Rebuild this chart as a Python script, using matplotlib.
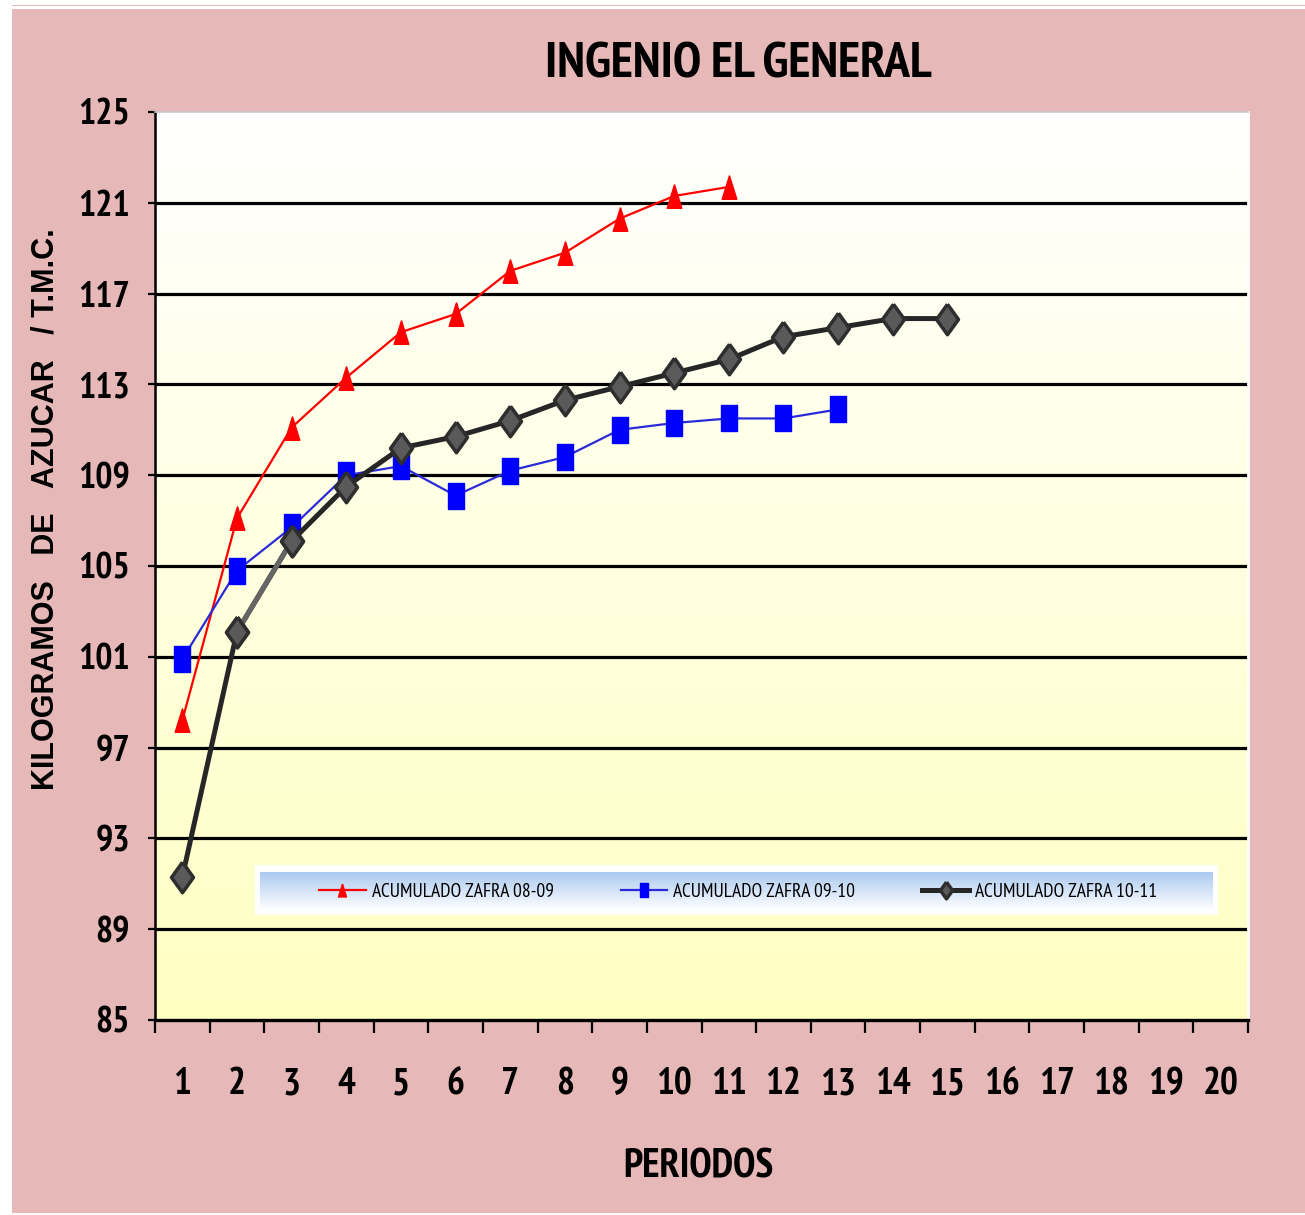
import numpy as np
import matplotlib.pyplot as plt
from matplotlib.patches import Rectangle

periods = np.arange(1, 21)
zafra_08_09 = [98.2, 107.1, 111.1, 113.3, 115.3, 116.1, 118.0, 118.8, 120.3, 121.3, 121.7]
zafra_09_10 = [100.9, 104.8, 106.7, 109.0, 109.4, 108.1, 109.2, 109.8, 111.0, 111.3, 111.5, 111.5, 111.9]
zafra_10_11 = [91.3, 102.1, 106.1, 108.5, 110.2, 110.7, 111.4, 112.3, 112.9, 113.5, 114.1, 115.1, 115.5, 115.9, 115.9]
y_ticks = np.arange(85, 126, 4)

narrow = ['Liberation Sans Narrow', 'Arial Narrow', 'PT Sans Narrow', 'Roboto Condensed',
          'Archivo Narrow', 'Liberation Sans']
pink = '#e6b8b7'

fig = plt.figure(figsize=(13.05, 12.15), dpi=100, facecolor='white')
fig.patches.append(Rectangle((12 / 1305, 0.002), 1 - 12 / 1305, 1 - 9 / 1215 - 0.002,
                             transform=fig.transFigure, facecolor=pink, edgecolor='none', zorder=-5))
fig.patches.append(Rectangle((12 / 1305, 1 - 6 / 1215), 1 - 12 / 1305, 1.5 / 1215,
                             transform=fig.transFigure, facecolor=pink, edgecolor='none', zorder=-5))

ax = fig.add_axes([155 / 1305, 1 - 1020 / 1215, 1093 / 1305, 908 / 1215])
ax.set_facecolor('white')

# plot area gradient: white at top -> pale yellow at bottom
grad = np.linspace(0, 1, 256).reshape(-1, 1)
top = np.array([1.0, 1.0, 1.0])
bot = np.array([1.0, 1.0, 0.76])
img = top + (bot - top) * grad[:, :, None]
ax.imshow(img, extent=[0, 1, 0, 1], transform=ax.transAxes, aspect='auto', zorder=0)

for v in y_ticks[1:-1]:
    ax.axhline(v, color='black', lw=2.3, zorder=1)

x1 = periods[:len(zafra_08_09)]
x2 = periods[:len(zafra_09_10)]
x3 = periods[:len(zafra_10_11)]

tri = [(0, 1), (0.62, -1), (-0.62, -1), (0, 1)]
rect = [(-0.6, -1), (0.6, -1), (0.6, 1), (-0.6, 1), (-0.6, -1)]
diam = [(0, 1), (0.72, 0), (0, -1), (-0.72, 0), (0, 1)]

ax.plot(x1, zafra_08_09, color='#ff0000', lw=1.6, marker=tri, ms=17,
        mfc='#ff0000', mec='#ff0000', label='ACUMULADO ZAFRA 08-09', zorder=3)
ax.plot(x2, zafra_09_10, color='#2a2ad8', lw=1.6, marker=rect, ms=19,
        mfc='#0000ff', mec='#0000ff', label='ACUMULADO ZAFRA 09-10', zorder=3)
ax.plot(x3, zafra_10_11, color='#262626', lw=3.6, marker=diam, ms=22,
        mfc='#5a5a5a', mec='#2e2e2e', mew=2.5, label='ACUMULADO ZAFRA 10-11', zorder=4)
ax.plot(x3[1:3], zafra_10_11[1:3], color='#666666', lw=3.6, zorder=4)
ax.plot(x3[1:3], zafra_10_11[1:3], ls='none', marker=diam, ms=22,
        mfc='#5a5a5a', mec='#2e2e2e', mew=2.5, zorder=4)

ax.set_xlim(0.5, 20.5)
ax.set_ylim(85, 125)
ax.set_yticks(y_ticks)
ax.set_yticklabels([str(v) for v in y_ticks], family=narrow, fontsize=26, fontweight='bold')
ax.set_xticks(periods)
ax.set_xticklabels([str(p) for p in periods], family=narrow, fontsize=27, fontweight='bold')
ax.set_xticks(np.arange(0.5, 21, 1), minor=True)
ax.tick_params(axis='x', which='major', length=0, pad=34)
ax.tick_params(axis='x', which='minor', length=9, width=1.6, direction='out', color='black')
ax.tick_params(axis='y', which='major', length=5, width=1.6, pad=13)

ax.spines['left'].set_linewidth(1.8)
ax.spines['bottom'].set_linewidth(2.4)
ax.spines['top'].set_color('#c8c8c8')
ax.spines['top'].set_linewidth(1.2)
ax.spines['right'].set_color('white')
ax.spines['right'].set_linewidth(2)

ax.set_xlabel('PERIODOS', family=narrow, fontsize=29, fontweight='bold')
ax.xaxis.set_label_coords((698 - 155) / 1093, -(1167 - 1020) / 908)
ax.xaxis.label.set_va('center')
ax.set_ylabel('KILOGRAMOS   DE   AZUCAR   / T.M.C.', fontsize=22, fontweight='bold',
              family='Liberation Sans')
ax.yaxis.set_label_coords(-(155 - 45) / 1093, (1020 - 509) / 908)
ax.yaxis.label.set_va('center')
fig.text(738 / 1305, 1 - 65 / 1215, 'INGENIO EL GENERAL', family=narrow, fontsize=37,
         fontweight='bold', ha='center', va='center')

# legend box with blue-white gradient
lx0, lx1 = (255 - 155) / 1093, (1218 - 155) / 1093
ly0, ly1 = (1020 - 915) / 908, (1020 - 865) / 908
ax.add_patch(Rectangle((lx0, ly0), lx1 - lx0, ly1 - ly0, transform=ax.transAxes,
                       facecolor='white', edgecolor='none', zorder=5))
lg = np.linspace(0, 1, 128).reshape(-1, 1)
ltop = np.array([0.67, 0.79, 0.94])
lbot = np.array([1.0, 1.0, 1.0])
limg = ltop + (lbot - ltop) * lg[:, :, None]
ax.imshow(limg, extent=[(260 - 155) / 1093, (1213 - 155) / 1093, (1020 - 910) / 908, (1020 - 872) / 908],
          transform=ax.transAxes, aspect='auto', zorder=5.5)
leg = ax.legend(loc='center', bbox_to_anchor=((738 - 155) / 1093, (1020 - 892) / 908), ncol=3,
                frameon=False, prop={'family': narrow, 'size': 14}, handlelength=2.4,
                handletextpad=0.3, columnspacing=3.45, markerscale=0.55)
leg.set_zorder(6)

ax.set_xlim(0.5, 20.5)
ax.set_ylim(85, 125)
fig.savefig('out.png', dpi=100, facecolor='white')
